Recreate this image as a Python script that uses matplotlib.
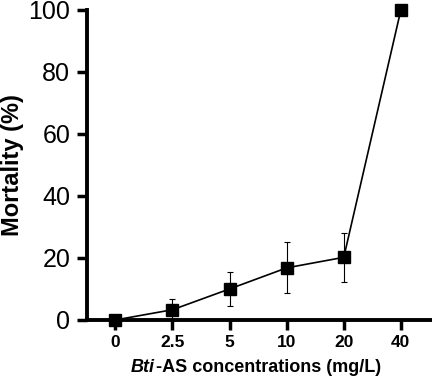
import numpy as np
import matplotlib.pyplot as plt
from matplotlib.offsetbox import TextArea, HPacker, AnchoredOffsetbox

plt.rcParams['font.family'] = ['Liberation Sans', 'DejaVu Sans']

# Mortality of larvae against Bti-AS concentration
conc_labels = ["0", "2.5", "5", "10", "20", "40"]
mortality = [0, 3.3, 10, 16.8, 20.2, 100]
mortality_err = [0, 3.3, 5.5, 8.2, 8.0, 0]

fig = plt.figure(figsize=(4.32, 3.8), dpi=100)
ax = fig.add_axes([0.201, 0.158, 0.797, 0.816])

x = np.arange(len(conc_labels))
ax.errorbar(x, mortality, yerr=mortality_err, color='black', lw=1.2,
            marker='s', ms=8, elinewidth=0.8, capsize=2, capthick=0.8,
            clip_on=False, zorder=3)

ax.set_xlim(-0.5, 5.53)
ax.set_ylim(0, 100)
ax.set_xticks(x)
ax.set_xticklabels(conc_labels, fontweight='bold', fontsize=12.5)
ax.set_yticks([0, 20, 40, 60, 80, 100])
ax.tick_params(axis='y', labelsize=18, width=2.5, length=7, pad=5)
ax.tick_params(axis='x', width=2.5, length=7)

for side in ['top', 'right']:
    ax.spines[side].set_visible(False)
for side in ['left', 'bottom']:
    ax.spines[side].set_linewidth(2.8)

ax.set_ylabel("Mortality (%)", fontsize=17, fontweight='bold', labelpad=3)

# x label with italic "Bti"
part1 = TextArea("Bti", textprops=dict(fontsize=13, fontweight='bold', fontstyle='italic'))
part2 = TextArea("-AS concentrations (mg/L)", textprops=dict(fontsize=13, fontweight='bold'))
box = HPacker(children=[part1, part2], pad=0, sep=1)
anchored = AnchoredOffsetbox(loc='center', child=box, pad=0, frameon=False,
                             bbox_to_anchor=(0.49, -0.152), bbox_transform=ax.transAxes,
                             borderpad=0)
ax.add_artist(anchored)

fig.savefig("out.png", dpi=100)
